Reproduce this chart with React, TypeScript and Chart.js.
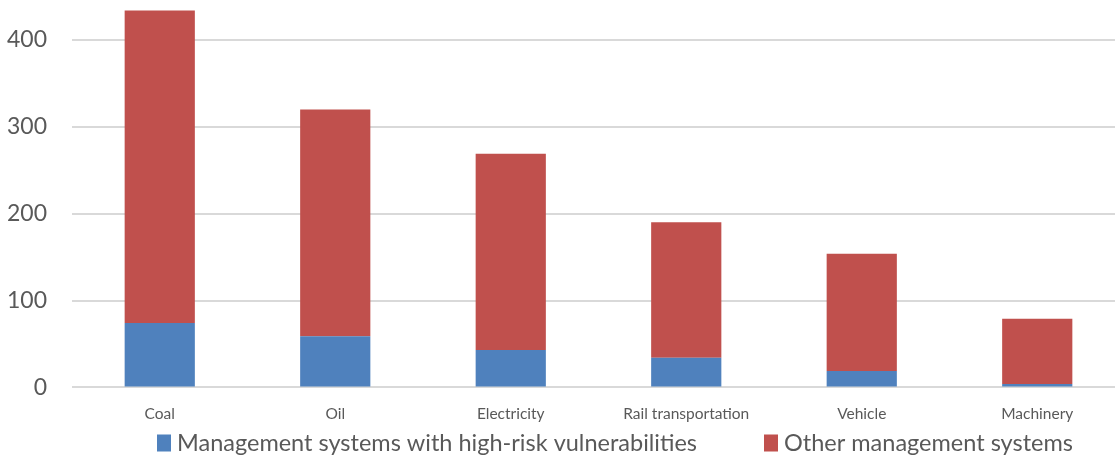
import React, { useEffect, useRef } from "react";
import { Chart, registerables } from "chart.js";

Chart.register(...registerables);

const categories = ["Coal", "Oil", "Electricity", "Rail transportation", "Vehicle", "Machinery"];
const highRiskSystems = [74, 59, 43, 34, 19, 4];
const otherSystems = [360, 261, 226, 156, 135, 75];
const yTickValues = [0, 100, 200, 300, 400];
const seriesLabels = ["Management systems with high-risk vulnerabilities", "Other management systems"];
const seriesColors = ["#4F81BD", "#C0504D"];

const TEXT = "#595959";
const FONT = "Lato, 'Open Sans', sans-serif";

const fixedLegend = {
  id: "fixedLegend",
  afterDraw(chart: any, _args: any, opts: any) {
    const ctx = chart.ctx;
    ctx.save();
    ctx.font = `${opts.size}px ${FONT}`;
    ctx.textBaseline = "middle";
    ctx.textAlign = "left";
    chart.data.datasets.forEach((ds: any, i: number) => {
      const x = opts.xs[i];
      ctx.fillStyle = ds.backgroundColor;
      ctx.fillRect(x, opts.y - opts.boxH / 2, opts.boxW, opts.boxH);
      ctx.fillStyle = TEXT;
      ctx.fillText(ds.label, x + opts.boxW + opts.gap, opts.y);
    });
    ctx.restore();
  },
};

export default function App() {
  const ref = useRef<HTMLCanvasElement | null>(null);

  useEffect(() => {
    if (!ref.current) return;
    const chart = new Chart(ref.current, {
      type: "bar",
      data: {
        labels: categories,
        datasets: [
          { label: seriesLabels[0], data: highRiskSystems, backgroundColor: seriesColors[0] },
          { label: seriesLabels[1], data: otherSystems, backgroundColor: seriesColors[1] },
        ],
      },
      plugins: [fixedLegend],
      options: {
        responsive: false,
        animation: false,
        layout: { padding: { top: 0, left: 0, right: 0, bottom: 19 } },
        datasets: { bar: { barPercentage: 0.4, categoryPercentage: 1 } },
        plugins: {
          legend: { display: false },
          tooltip: { enabled: false },
          fixedLegend: { xs: [157, 764], y: 443, boxW: 14, boxH: 17, gap: 6, size: 23.5 },
        } as any,
        scales: {
          x: {
            stacked: true,
            grid: { display: false, drawTicks: false },
            border: { display: false },
            ticks: { color: TEXT, font: { family: FONT, size: 15.5 }, padding: 17, maxRotation: 0, autoSkip: false },
            afterFit: (s: any) => {
              s.paddingLeft = 0;
              s.paddingRight = 0;
            },
          },
          y: {
            stacked: true,
            min: 0,
            max: 446,
            grid: { color: "#D9D9D9", lineWidth: 2, drawTicks: false },
            border: { display: false },
            ticks: { color: TEXT, font: { family: FONT, size: 23 }, padding: 25, stepSize: 100 },
            afterBuildTicks: (s: any) => {
              s.ticks = yTickValues.map((v) => ({ value: v }));
            },
            afterFit: (s: any) => {
              s.width = 72;
              s.paddingTop = 0;
              s.paddingBottom = 0;
            },
          },
        },
      },
    });
    return () => chart.destroy();
  }, []);

  return (
    <canvas
      ref={ref}
      width={1125}
      height={459}
      style={{ position: "fixed", left: 0, top: 0, width: 1125, height: 459 }}
    />
  );
}
